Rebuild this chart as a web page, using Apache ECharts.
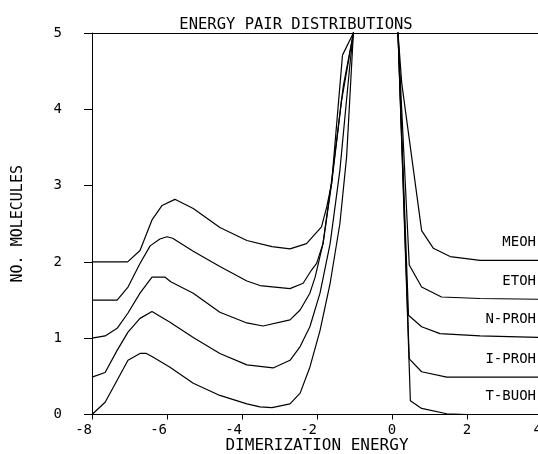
<!DOCTYPE html>
<html>
<head>
<meta charset="utf-8">
<script src="https://cdn.jsdelivr.net/npm/echarts@6/dist/echarts.min.js"></script>
<style>
html,body{margin:0;padding:0;background:#fff;}
#chart{width:538px;height:454px;}
</style>
</head>
<body>
<div id="chart"></div>
<script>
// ---- data (x = dimerization energy, y = no. molecules incl. vertical offset) ----
const TITLE = 'ENERGY PAIR DISTRIBUTIONS';
const X_NAME = 'DIMERIZATION ENERGY';
const Y_NAME = 'NO. MOLECULES';
const SERIES_NAMES = ['MEOH', 'ETOH', 'N-PROH', 'I-PROH', 'T-BUOH'];

const MEOH_X = [-8, -7.05, -6.72, -6.4, -6.13, -5.79, -5.3, -4.59, -3.87, -3.2, -2.72, -2.28, -1.88, -1.74, -1.61, -1.32, -1.03, -0.5, 0.0, 0.16, 0.26, 0.79, 1.1, 1.55, 2.35, 3.0, 4.0];
const MEOH_Y = [2.0, 2.0, 2.15, 2.55, 2.74, 2.82, 2.70, 2.45, 2.28, 2.20, 2.17, 2.24, 2.46, 2.72, 3.03, 4.71, 5.0, 7, 7, 5.0, 4.34, 2.41, 2.18, 2.07, 2.02, 2.02, 2.02];

const ETOH_X = [-8, -7.33, -7.04, -6.72, -6.45, -6.19, -6.0, -5.85, -5.3, -4.59, -3.87, -3.52, -2.72, -2.37, -2.15, -2.01, -1.84, -1.61, -1.35, -1.03, -0.5, 0.0, 0.16, 0.46, 0.79, 1.32, 2.35, 4.0];
const ETOH_Y = [1.5, 1.5, 1.67, 1.98, 2.21, 2.30, 2.33, 2.31, 2.14, 1.94, 1.75, 1.69, 1.65, 1.72, 1.89, 1.98, 2.24, 3.03, 4.1, 5.0, 7, 7, 5.0, 1.96, 1.67, 1.54, 1.52, 1.51];

const NPROH_X = [-8, -7.65, -7.33, -7.04, -6.72, -6.4, -6.05, -5.9, -5.3, -4.59, -3.87, -3.44, -2.72, -2.45, -2.19, -2.05, -1.84, -1.6, -1.3, -1.03, -0.5, 0.0, 0.16, 0.44, 0.79, 1.28, 2.35, 4.0];
const NPROH_Y = [1.0, 1.03, 1.13, 1.33, 1.59, 1.80, 1.80, 1.74, 1.59, 1.34, 1.20, 1.16, 1.24, 1.37, 1.59, 1.80, 2.24, 3.1, 4.3, 5.0, 7, 7, 5.0, 1.30, 1.15, 1.06, 1.03, 1.01];

const IPROH_X = [-8, -7.65, -7.33, -7.04, -6.72, -6.4, -5.92, -5.3, -4.59, -3.87, -3.17, -2.72, -2.45, -2.19, -1.92, -1.65, -1.39, -1.12, -1.03, -0.5, 0.0, 0.16, 0.46, 0.79, 1.46, 2.35, 4.0];
const IPROH_Y = [0.49, 0.55, 0.84, 1.08, 1.26, 1.35, 1.21, 1.01, 0.80, 0.65, 0.61, 0.71, 0.89, 1.15, 1.59, 2.24, 3.2, 4.6, 5.0, 7, 7, 5.0, 0.73, 0.56, 0.49, 0.49, 0.49];

const TBUOH_X = [-8, -7.65, -7.33, -7.04, -6.72, -6.55, -6.4, -5.92, -5.3, -4.59, -3.87, -3.52, -3.2, -2.72, -2.45, -2.19, -1.92, -1.65, -1.39, -1.21, -1.03, -0.5, 0.0, 0.16, 0.49, 0.79, 1.46, 2.0, 4.0];
const TBUOH_Y = [0.0, 0.16, 0.45, 0.71, 0.80, 0.80, 0.76, 0.62, 0.41, 0.25, 0.14, 0.10, 0.09, 0.14, 0.28, 0.62, 1.10, 1.72, 2.5, 3.38, 5.0, 7, 7, 5.0, 0.18, 0.08, 0.01, 0.0, 0.0];

const X_MIN = -8, X_MAX = 4, X_STEP = 2;
const Y_MIN = 0, Y_MAX = 5, Y_STEP = 1;

const CURVES = [
  [MEOH_X, MEOH_Y],
  [ETOH_X, ETOH_Y],
  [NPROH_X, NPROH_Y],
  [IPROH_X, IPROH_Y],
  [TBUOH_X, TBUOH_Y]
];

// ---- chart ----
const FONT = '"DejaVu Sans Mono", monospace';
const chart = echarts.init(document.getElementById('chart'), null, {renderer: 'canvas'});

const series = CURVES.map(function (c, i) {
  return {
    name: SERIES_NAMES[i],
    type: 'line',
    data: c[0].map(function (x, k) { return [x, c[1][k]]; }),
    showSymbol: false,
    symbol: 'none',
    clip: true,
    smooth: false,
    lineStyle: {color: '#000', width: 1.2},
    endLabel: {
      show: true,
      formatter: '{a}',
      color: '#000',
      fontFamily: FONT,
      fontSize: 14,
      align: 'right',
      offset: [-14, -18]
    },
    emphasis: {disabled: true},
    silent: true
  };
});

chart.setOption({
  animation: false,
  backgroundColor: '#fff',
  title: {
    text: TITLE,
    left: 291,
    textAlign: 'center',
    top: 12,
    textStyle: {fontFamily: FONT, fontSize: 15.5, fontWeight: 'normal', color: '#000'}
  },
  grid: {left: 92, top: 33, width: 450, height: 381.5, containLabel: false, outerBoundsMode: 'none'},
  xAxis: [{
    type: 'value', min: X_MIN, max: X_MAX, interval: X_STEP,
    axisLine: {show: true, onZero: false, lineStyle: {color: '#000', width: 1}},
    axisTick: {show: true, length: 5, lineStyle: {color: '#000', width: 1}},
    axisLabel: {
      color: '#000', fontFamily: FONT, fontSize: 14, margin: 9,
      showMinLabel: true, showMaxLabel: true, hideOverlap: false,
      formatter: function (v) {
        if (v < 0) return v + '\u00a0\u00a0';
        if (v === X_MAX) return v + '\u00a0';
        return String(v);
      }
    },
    splitLine: {show: false},
    name: X_NAME, nameLocation: 'middle', nameGap: 23, nameMoveOverlap: false,
    nameTextStyle: {fontFamily: FONT, fontSize: 16, color: '#000'}
  }, {
    type: 'value', position: 'top', min: X_MIN, max: X_MAX,
    axisLine: {show: true, onZero: false, lineStyle: {color: '#000', width: 1}},
    axisTick: {show: false}, axisLabel: {show: false}, splitLine: {show: false}
  }],
  yAxis: {
    type: 'value', min: Y_MIN, max: Y_MAX, interval: Y_STEP,
    axisLine: {show: true, onZero: false, lineStyle: {color: '#000', width: 1}},
    axisTick: {show: true, length: 8, lineStyle: {color: '#000', width: 1}},
    axisLabel: {color: '#000', fontFamily: FONT, fontSize: 14, margin: 30},
    splitLine: {show: false},
    name: Y_NAME, nameLocation: 'middle', nameGap: 66, nameMoveOverlap: false,
    nameTextStyle: {fontFamily: FONT, fontSize: 15, color: '#000'}
  },
  series: series
});
</script>
</body>
</html>
